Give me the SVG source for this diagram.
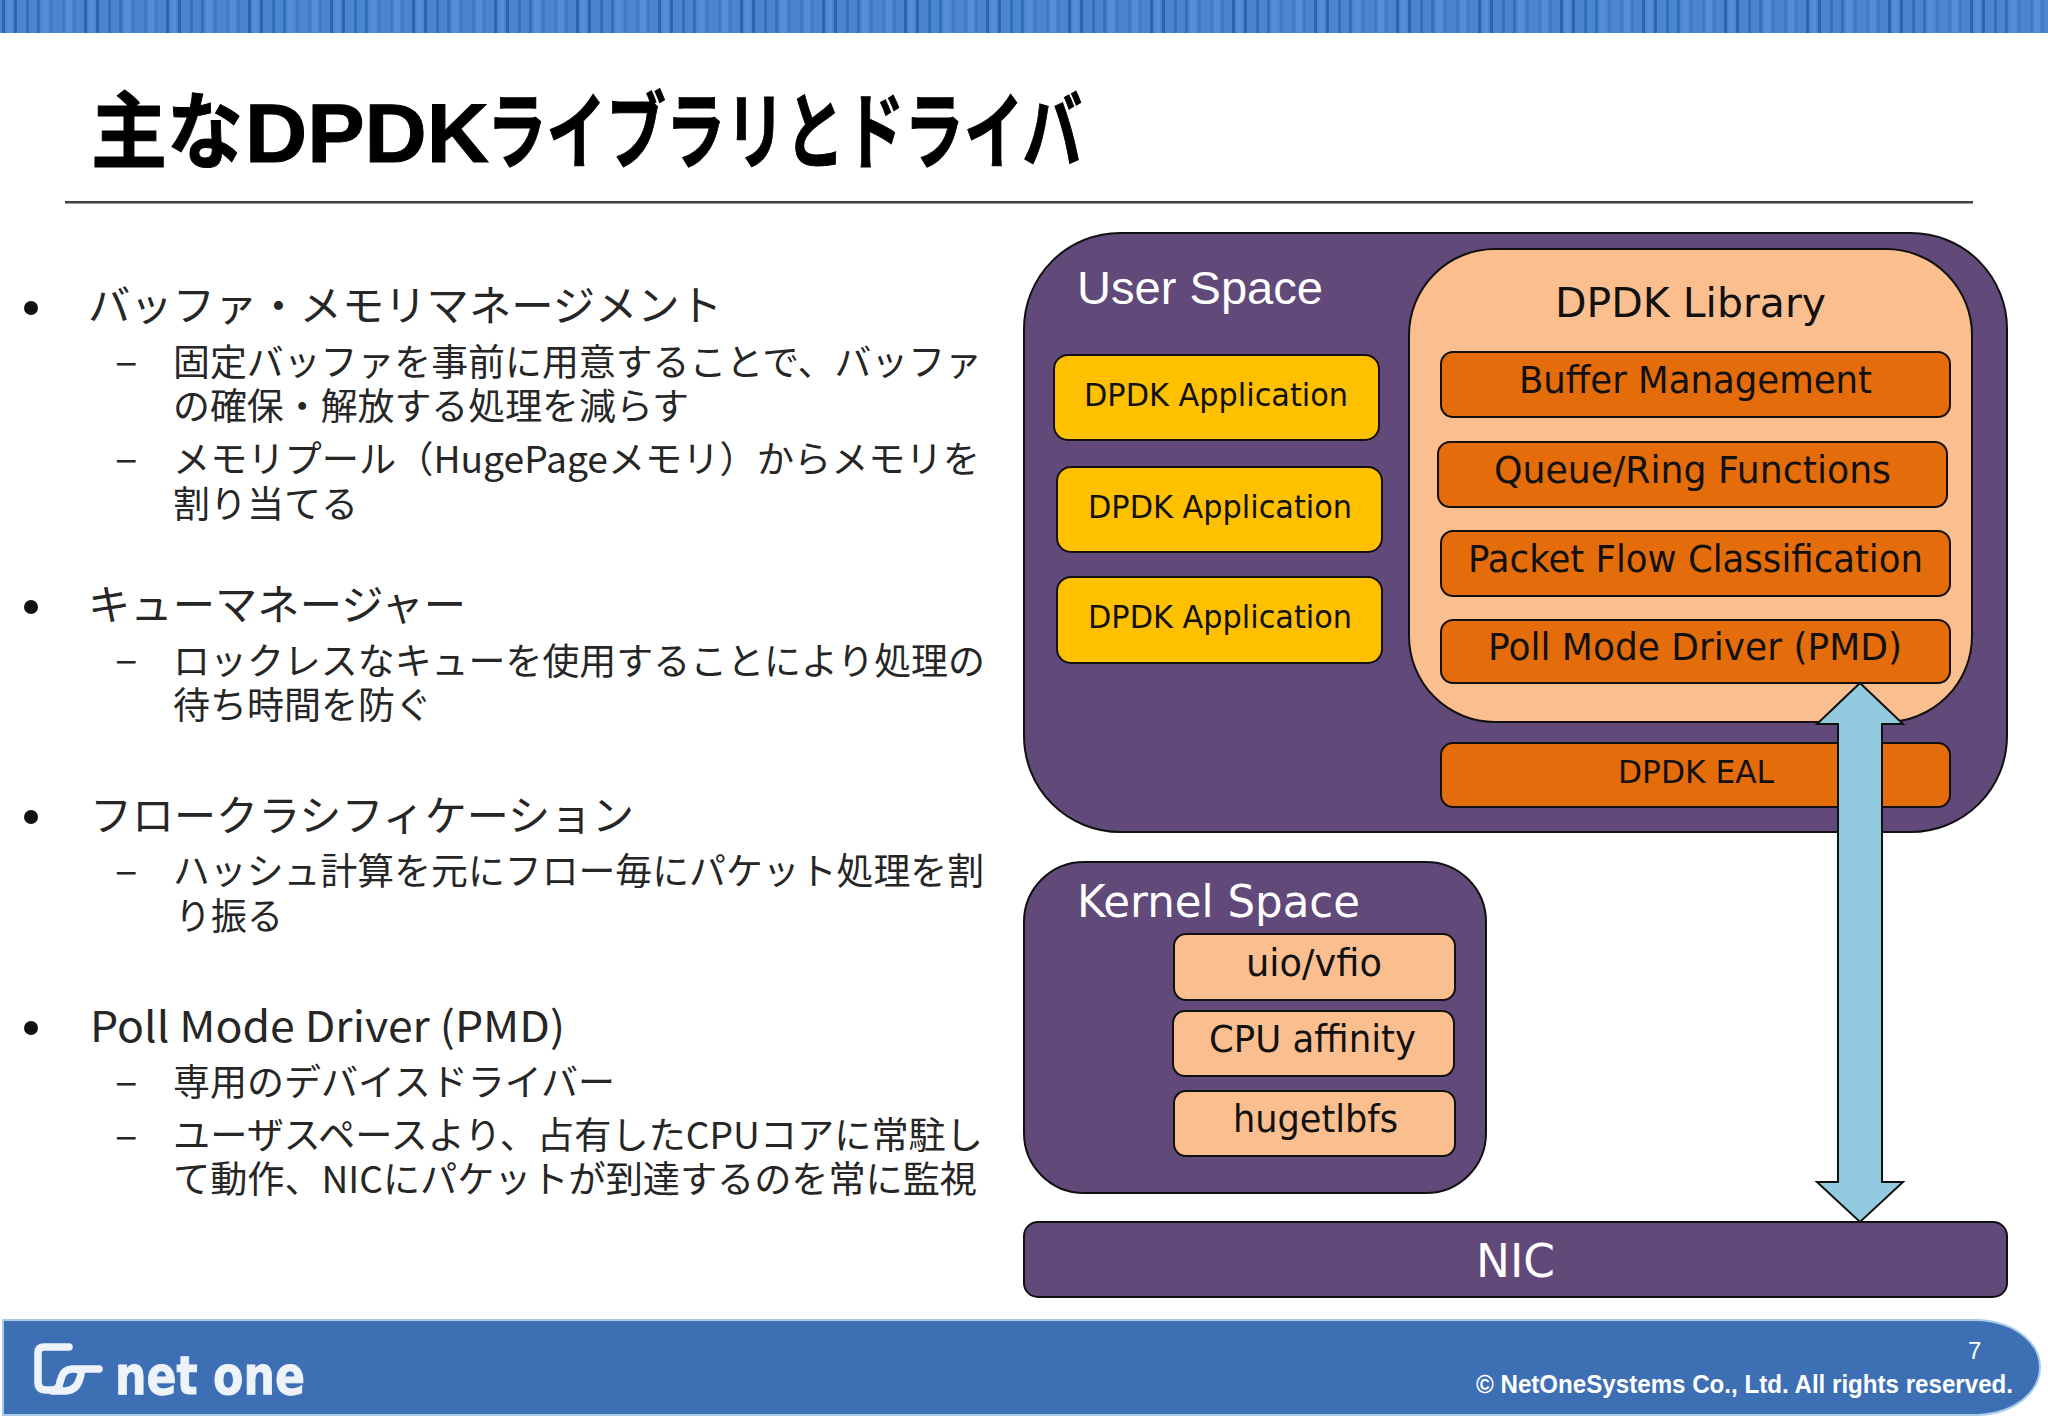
<svg xmlns="http://www.w3.org/2000/svg" width="2048" height="1418" viewBox="0 0 2048 1418">
<style>
.jp{font-family:"Noto Sans CJK JP","Noto Sans",sans-serif;fill:#262626}
.b{font-size:42px}.s{font-size:37px}
.m{font-family:"DejaVu Sans","Noto Sans CJK JP",sans-serif;text-anchor:start;fill:#111}
.sp{stroke:#111;stroke-width:2}
.pu{fill:#614a7a}.pe{fill:#fbbe8e}.or{fill:#e46c0a}.ye{fill:#ffc000}
.w{fill:#fff}
</style>
<defs>
<pattern id="st" width="82" height="33" patternUnits="userSpaceOnUse"><rect width="82" height="33" fill="#4c84cf"/>
<rect x="2" width="3" height="33" fill="#2a65b0"/><rect x="14" width="3" height="33" fill="#2a65b0"/><rect x="26" width="3" height="33" fill="#3170bb"/><rect x="37" width="3" height="33" fill="#3170bb"/><rect x="50" width="3" height="33" fill="#4079c4"/><rect x="62" width="3" height="33" fill="#4079c4"/><rect x="73" width="3" height="33" fill="#4079c4"/>
<rect x="7" width="5" height="33" fill="#558dd6"/><rect x="42" width="6" height="33" fill="#558dd6"/><rect x="66" width="6" height="33" fill="#558dd6"/></pattern>
</defs>
<rect width="2048" height="1418" fill="#fff"/>
<rect id="top-bar" width="2048" height="33" fill="url(#st)"/>
<text y="162" font-size="84" font-weight="700" fill="#000" stroke="#000" stroke-width="1" style="font-family:'Noto Sans CJK JP',sans-serif"><tspan x="91" textLength="152" lengthAdjust="spacingAndGlyphs">主な</tspan><tspan x="245" textLength="244" lengthAdjust="spacingAndGlyphs" style="font-family:'Liberation Sans',sans-serif">DPDK</tspan><tspan x="487" textLength="595" lengthAdjust="spacingAndGlyphs">ライブラリとドライバ</tspan></text>
<rect x="65" y="201" width="1908" height="2.5" fill="#404040"/>
<g id="bullets">
<circle cx="31" cy="308" r="7" fill="#111"/><circle cx="31" cy="607" r="7" fill="#111"/><circle cx="31" cy="817" r="7" fill="#111"/><circle cx="31" cy="1028" r="7" fill="#111"/>
<g class="jp" font-size="42"><text x="115" y="376">–</text><text x="115" y="473">–</text><text x="115" y="674">–</text><text x="115" y="885">–</text><text x="115" y="1096">–</text><text x="115" y="1150">–</text></g>
<g class="jp b">
<text x="88" y="321" textLength="634" lengthAdjust="spacingAndGlyphs">バッファ・メモリマネージメント</text>
<text x="88" y="620" textLength="378" lengthAdjust="spacingAndGlyphs">キューマネージャー</text>
<text x="90" y="831" textLength="544" lengthAdjust="spacingAndGlyphs">フロークラシフィケーション</text>
<text x="90" y="1042" textLength="475" lengthAdjust="spacingAndGlyphs">Poll Mode Driver (PMD)</text>
</g>
<g class="jp s">
<text x="173" y="376" textLength="809" lengthAdjust="spacingAndGlyphs">固定バッファを事前に用意することで、バッファ</text>
<text x="173" y="420" textLength="516" lengthAdjust="spacingAndGlyphs">の確保・解放する処理を減らす</text>
<text x="173" y="473" textLength="807" lengthAdjust="spacingAndGlyphs">メモリプール（HugePageメモリ）からメモリを</text>
<text x="173" y="518" textLength="185" lengthAdjust="spacingAndGlyphs">割り当てる</text>
<text x="173" y="675" textLength="812" lengthAdjust="spacingAndGlyphs">ロックレスなキューを使用することにより処理の</text>
<text x="173" y="719" textLength="259" lengthAdjust="spacingAndGlyphs">待ち時間を防ぐ</text>
<text x="173" y="885" textLength="811" lengthAdjust="spacingAndGlyphs">ハッシュ計算を元にフロー毎にパケット処理を割</text>
<text x="175" y="930" textLength="108" lengthAdjust="spacingAndGlyphs">り振る</text>
<text x="173" y="1096" textLength="442" lengthAdjust="spacingAndGlyphs">専用のデバイスドライバー</text>
<text x="173" y="1149" textLength="810" lengthAdjust="spacingAndGlyphs">ユーザスペースより、占有したCPUコアに常駐し</text>
<text x="173" y="1193" textLength="804" lengthAdjust="spacingAndGlyphs">て動作、NICにパケットが到達するのを常に監視</text>
</g>
</g>
<g id="user-space"><rect class="pu sp" x="1024" y="233" width="983" height="599" rx="96"/><text x="1077" y="304" font-size="47" class="w" style="font-family:'Liberation Sans',sans-serif" textLength="246" lengthAdjust="spacingAndGlyphs">User Space</text></g>
<g id="dpdk-library"><rect class="pe sp" x="1409" y="249" width="563" height="473" rx="86"/><text class="m" x="1555" y="317" font-size="41" textLength="271" lengthAdjust="spacingAndGlyphs">DPDK Library</text></g>
<g id="app1"><rect class="ye sp" x="1054" y="355" width="325" height="85" rx="14"/><text class="m" x="1084" y="406" font-size="32" textLength="264" lengthAdjust="spacingAndGlyphs">DPDK Application</text></g>
<g id="app2"><rect class="ye sp" x="1057" y="467" width="325" height="85" rx="14"/><text class="m" x="1088" y="518" font-size="32" textLength="264" lengthAdjust="spacingAndGlyphs">DPDK Application</text></g>
<g id="app3"><rect class="ye sp" x="1057" y="577" width="325" height="86" rx="14"/><text class="m" x="1088" y="628" font-size="32" textLength="264" lengthAdjust="spacingAndGlyphs">DPDK Application</text></g>
<g id="buffer"><rect class="or sp" x="1441" y="352" width="509" height="65" rx="12"/><text class="m" x="1519" y="393" font-size="37" textLength="353" lengthAdjust="spacingAndGlyphs">Buffer Management</text></g>
<g id="queue"><rect class="or sp" x="1438" y="442" width="509" height="65" rx="12"/><text class="m" x="1494" y="483" font-size="37" textLength="397" lengthAdjust="spacingAndGlyphs">Queue/Ring Functions</text></g>
<g id="packet"><rect class="or sp" x="1441" y="531" width="509" height="65" rx="12"/><text class="m" x="1468" y="572" font-size="37" textLength="455" lengthAdjust="spacingAndGlyphs">Packet Flow Classification</text></g>
<g id="pmd"><rect class="or sp" x="1441" y="620" width="509" height="63" rx="12"/><text class="m" x="1488" y="660" font-size="37" textLength="414" lengthAdjust="spacingAndGlyphs">Poll Mode Driver (PMD)</text></g>
<g id="eal"><rect class="or sp" x="1441" y="743" width="509" height="64" rx="12"/><text class="m" x="1618" y="783" font-size="32" textLength="156" lengthAdjust="spacingAndGlyphs">DPDK EAL</text></g>
<g id="kernel-space"><rect class="pu sp" x="1024" y="862" width="462" height="331" rx="60"/><text x="1077" y="917" font-size="45" class="w" style="font-family:'DejaVu Sans',sans-serif" textLength="283" lengthAdjust="spacingAndGlyphs">Kernel Space</text></g>
<g id="uio"><rect class="pe sp" x="1174" y="934" width="281" height="66" rx="12"/><text class="m" x="1246" y="976" font-size="37" textLength="136" lengthAdjust="spacingAndGlyphs">uio/vfio</text></g>
<g id="cpu"><rect class="pe sp" x="1173" y="1011" width="281" height="65" rx="12"/><text class="m" x="1209" y="1052" font-size="37" textLength="207" lengthAdjust="spacingAndGlyphs">CPU affinity</text></g>
<g id="huge"><rect class="pe sp" x="1174" y="1091" width="281" height="65" rx="12"/><text class="m" x="1233" y="1132" font-size="37" textLength="165" lengthAdjust="spacingAndGlyphs">hugetlbfs</text></g>
<g id="nic"><rect class="pu sp" x="1024" y="1222" width="983" height="75" rx="14"/><text class="m" x="1476" y="1277" font-size="46" style="fill:#fff" textLength="79" lengthAdjust="spacingAndGlyphs">NIC</text></g>
<g id="connectors"><path d="M1860 683L1903 724H1882V1182H1903L1860 1222L1817 1182H1838V724H1817Z" fill="#92cadf" stroke="#111" stroke-width="2"/></g>
<g id="footer"><path d="M3 1320H1978C2018 1322 2040 1345 2040 1367C2040 1390 2018 1413 1978 1415H3Z" fill="#3d6fb5" stroke="#a8cbe8" stroke-width="2"/>
<path d="M69 1347H44Q38 1347 38 1353V1382Q38 1390 46 1390H52Q59 1390 60 1382L62 1376Q64 1370 72 1369H99M72 1369Q84 1368 80 1378Q77 1390 66 1391H52" fill="none" stroke="#eef3fa" stroke-width="7.5" stroke-linecap="round" stroke-linejoin="round"/>
<text x="115" y="1394" font-size="54" font-weight="700" fill="#eef3fa" stroke="#eef3fa" stroke-width="1" style="font-family:'DejaVu Sans',sans-serif" textLength="190" lengthAdjust="spacingAndGlyphs">net one</text>
<text x="1968" y="1359" font-size="24" fill="#fff" style="font-family:'Liberation Sans',sans-serif">7</text>
<text x="1476" y="1393" font-size="25" font-weight="700" fill="#fff" style="font-family:'Liberation Sans',sans-serif" textLength="537" lengthAdjust="spacingAndGlyphs">© NetOneSystems Co., Ltd. All rights reserved.</text></g>
</svg>
